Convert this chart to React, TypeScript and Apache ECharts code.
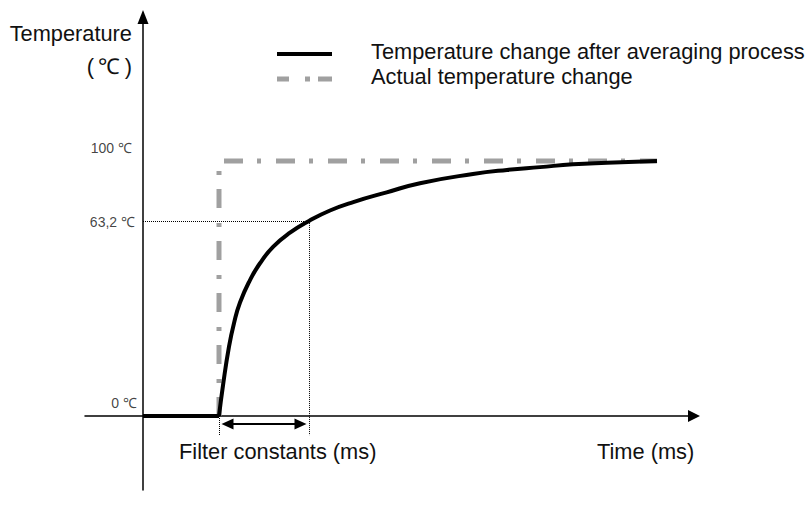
import { useEffect, useRef } from "react";
import * as echarts from "echarts";

// Averaged (filtered) temperature curve (time in arbitrary ms units, temp in drawn °C units)
const flatTime = [0, 7.6];
const flatTemp = [0, 0];
const averagedTime = [7.6, 8.0, 8.6, 9.1, 9.7, 10.7, 11.7, 13.03, 14.7, 16.6, 18.7, 21.03, 24.37, 27.7, 33.0, 36.4, 39.7, 43.0, 46.4, 51.4];
const averagedTemp = [0, 12.0, 27.2, 36.4, 44.5, 53.3, 59.9, 66.4, 71.9, 76.5, 80.6, 83.9, 87.7, 91.3, 94.9, 96.5, 97.6, 98.7, 99.3, 100];

// Actual (step) temperature change
const actualTime = [7.6, 7.6, 51.4];
const actualTemp = [0, 100, 100];

// Reference levels
const stepTime = 7.6;
const filterTime = 16.6;
const filterLevel = 76.5; // drawn height of the 63,2 ℃ level
const tickLabels = ["0 ℃", "63,2 ℃", "100 ℃"];
const tickLevels = [0, filterLevel, 100];

const seriesNames = ["Temperature change after averaging process", "Actual temperature change"];

const FONT = '"Liberation Sans", Arial, sans-serif';

export default function App() {
  const ref = useRef<HTMLDivElement>(null);

  useEffect(() => {
    if (!ref.current) return;
    const chart = echarts.init(ref.current, null, { renderer: "svg" });

    const xMin = -5.8;
    const xMax = 55.1;
    const yMin = -29.02;
    const yMax = 156.47;
    const below = -7.5;
    const arrowY = -3.1;

    const labelOffsets = [
      { distance: 6, offset: [0, -13] },
      { distance: 8, offset: [0, 1] },
      { distance: 11, offset: [0, -13] },
    ];

    const textStyle = (text: string, align: string) => ({
      text,
      align,
      verticalAlign: "middle",
      fontSize: 21.8,
      fontFamily: FONT,
      fill: "#111",
    });

    const option: any = {
      animation: false,
      backgroundColor: "#ffffff",
      grid: { left: 85, right: 114, top: 17, bottom: 27, containLabel: false },
      xAxis: {
        type: "value",
        min: xMin,
        max: xMax,
        axisLine: {
          show: true,
          onZero: true,
          symbol: ["none", "triangle"],
          symbolSize: [12, 12],
          lineStyle: { color: "#000", width: 1.5 },
        },
        axisTick: { show: false },
        axisLabel: { show: false },
        splitLine: { show: false },
      },
      yAxis: {
        type: "value",
        min: yMin,
        max: yMax,
        axisLine: {
          show: true,
          onZero: true,
          symbol: ["none", "triangle"],
          symbolSize: [11, 14],
          lineStyle: { color: "#000", width: 1.5 },
        },
        axisTick: { show: false },
        axisLabel: { show: false },
        splitLine: { show: false },
      },
      series: [
        {
          name: seriesNames[1],
          type: "line",
          symbol: "none",
          silent: true,
          z: 2,
          lineStyle: { color: "#a0a0a0", width: 5, type: [19, 14, 4, 15], cap: "butt" },
          itemStyle: { color: "#a0a0a0" },
          data: actualTime.map((t, i) => [t, actualTemp[i]]),
        },
        {
          name: seriesNames[0],
          type: "line",
          symbol: "none",
          silent: true,
          z: 3,
          lineStyle: { color: "#000", width: 4 },
          itemStyle: { color: "#000" },
          data: flatTime.map((t, i) => [t, flatTemp[i]]),
        },
        {
          name: seriesNames[0],
          type: "line",
          symbol: "none",
          silent: true,
          smooth: 0.5,
          z: 3,
          lineStyle: { color: "#000", width: 4 },
          itemStyle: { color: "#000" },
          data: averagedTime.map((t, i) => [t, averagedTemp[i]]),
          markLine: {
            silent: true,
            symbol: ["none", "none"],
            label: { show: false },
            lineStyle: { type: "dotted", color: "#000", width: 1 },
            data: [
              [{ coord: [0, filterLevel] }, { coord: [filterTime, filterLevel] }],
              [{ coord: [filterTime, filterLevel] }, { coord: [filterTime, below] }],
              [{ coord: [stepTime, 0] }, { coord: [stepTime, below] }],
            ],
          },
        },
        {
          name: "labels",
          type: "scatter",
          symbolSize: 0,
          silent: true,
          z: 4,
          data: tickLevels.map((v, i) => ({
            value: [0, v],
            label: {
              show: true,
              position: "left",
              formatter: tickLabels[i],
              fontSize: 14,
              fontFamily: FONT,
              color: "#111",
              distance: labelOffsets[i].distance,
              offset: labelOffsets[i].offset,
            },
          })),
          markLine: {
            silent: true,
            symbol: ["triangle", "triangle"],
            symbolSize: [11, 12],
            label: { show: false },
            lineStyle: { type: "solid", color: "#000", width: 2 },
            data: [[{ coord: [stepTime + 0.85, arrowY] }, { coord: [filterTime - 0.85, arrowY] }]],
          },
        },
      ],
      graphic: [
        // legend
        {
          type: "line",
          shape: { x1: 277, y1: 54, x2: 332, y2: 54 },
          style: { stroke: "#000", lineWidth: 4 },
        },
        {
          type: "line",
          shape: { x1: 277, y1: 79, x2: 332, y2: 79 },
          style: { stroke: "#a0a0a0", lineWidth: 5, lineDash: [12, 16, 5, 8, 14, 60] },
        },
        { type: "text", x: 371, y: 51, style: textStyle(seriesNames[0], "left") },
        { type: "text", x: 371, y: 76, style: textStyle(seriesNames[1], "left") },
        // axis titles
        { type: "text", x: 132, y: 33, style: textStyle("Temperature", "right") },
        { type: "text", x: 132, y: 66, style: textStyle("(\u2009℃\u2009)", "right") },
        { type: "text", x: 179, y: 451, style: textStyle("Filter constants (ms)", "left") },
        { type: "text", x: 597, y: 451, style: textStyle("Time (ms)", "left") },
      ],
    };

    chart.setOption(option);
    return () => chart.dispose();
  }, []);

  return (
    <div
      ref={ref}
      style={{ position: "absolute", left: 0, top: 0, width: 808, height: 517, background: "#fff" }}
    />
  );
}
